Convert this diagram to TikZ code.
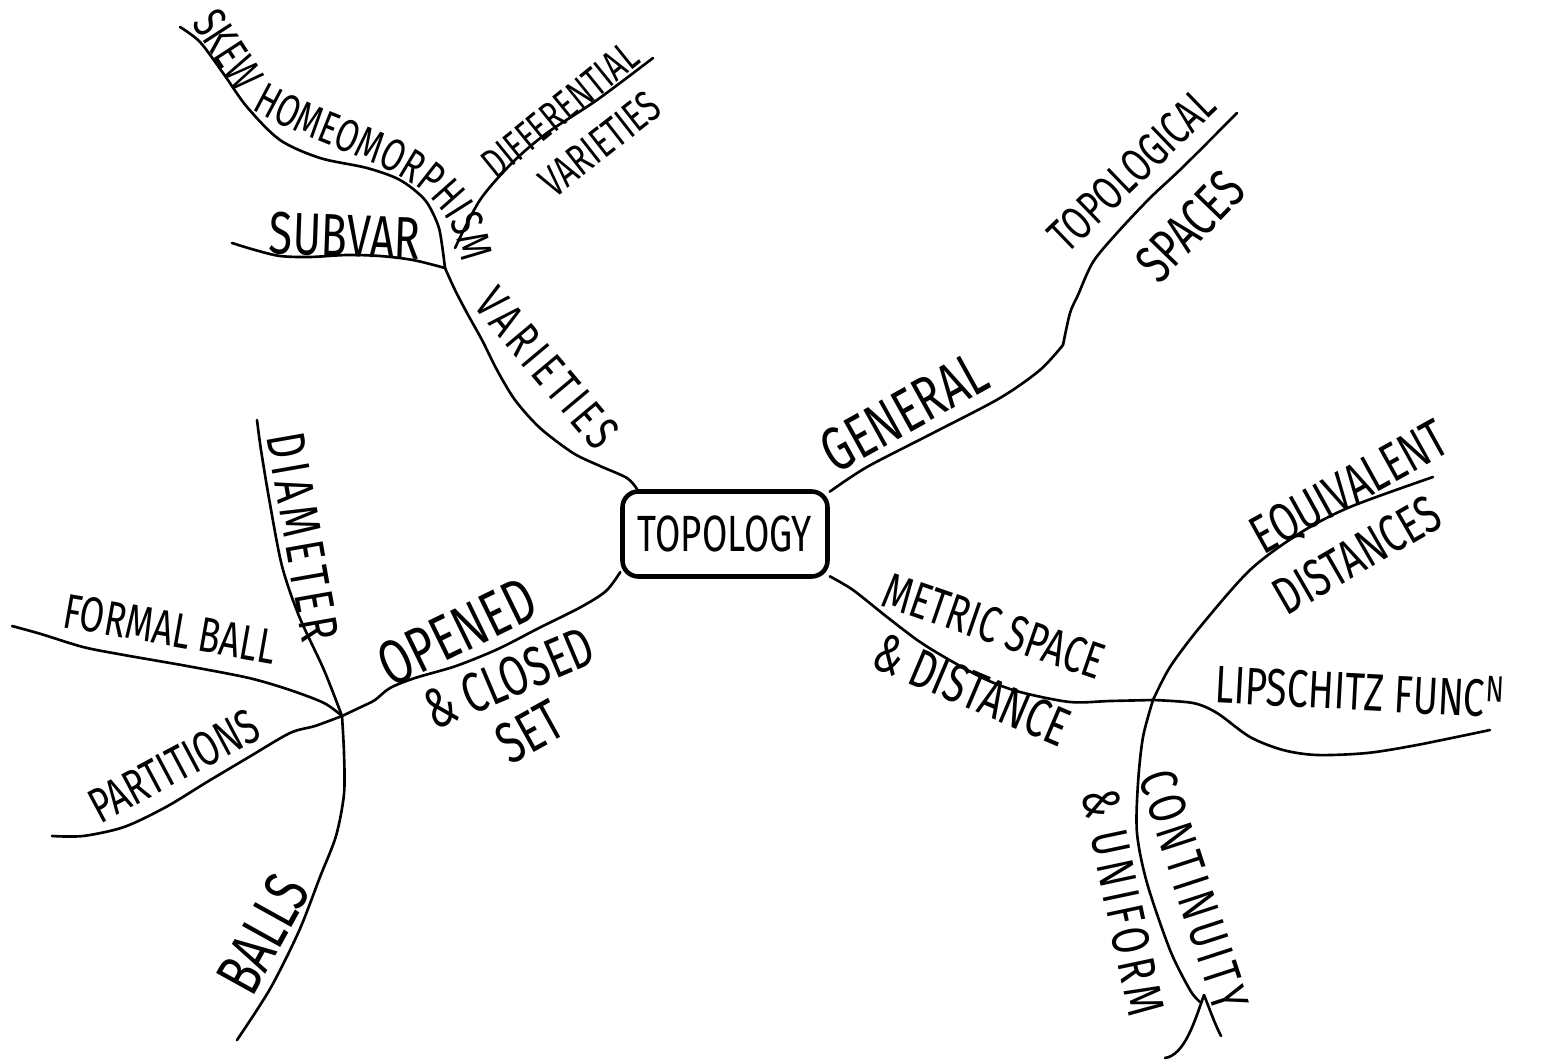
\documentclass[tikz,border=0pt]{standalone}
\usepackage{fontspec}
\setmainfont{Fira Sans}[FakeStretch=0.72]
\usetikzlibrary{decorations.text}
\tikzset{
  branch/.style={line width=1.5pt, line cap=round, line join=round},
  lab/.style={font=\fontsize{#1}{#1}\selectfont, inner sep=0pt},
  spaced/.style={font=\fontsize{#1}{#1}\selectfont\addfontfeature{LetterSpace=9}, inner sep=0pt},
  centre/.style={draw, line width=2.6pt, rounded corners=9pt, minimum width=4.1cm,
    minimum height=1.7cm, inner sep=0pt, font=\fontsize{29}{29}\selectfont}
}
\begin{document}
\begin{tikzpicture}[x=0.02cm, y=-0.02cm]
\useasboundingbox (0,0) rectangle (1551,1064);
\fill[white] (0,0) rectangle (1551,1064);

\node[centre] (T) at (725,534) {TOPOLOGY};

% junctions and free ends
\coordinate (JV) at (445,268);
\coordinate (JD) at (455,248);
\coordinate (JM) at (1153,700);
\coordinate (JO) at (342,716);
\coordinate (kG) at (1063,345);
\coordinate (eSub) at (232,243);
\coordinate (eHom) at (180,27);
\coordinate (eDif) at (653,58);
\coordinate (eTop) at (1237,113);
\coordinate (eEqu) at (1433,477);
\coordinate (eLip) at (1490,730);
\coordinate (eCon) at (1200,1002);
\coordinate (a1) at (1165,1058);
\coordinate (a2) at (1204,995);
\coordinate (a3) at (1221,1036);
\coordinate (eDia) at (257,420);
\coordinate (eFor) at (12,626);
\coordinate (ePar) at (52,836);
\coordinate (eBal) at (237,1040);

% varieties side
\draw[branch] plot[smooth] coordinates {(T.153) (627,478) (600,466) (573,453) (540,428) (515,400) (497,370) (482,340) (467,313) (455,290) (JV)};
\draw[branch] plot[smooth] coordinates {(JV) (413,260) (380,256) (347,255) (310,257) (280,256) (255,250) (eSub)};
\draw[branch] plot[smooth] coordinates {(JV) (442,245) (438,225) (425,200) (400,180) (367,168) (320,158) (280,140) (247,107) (223,73) (200,42) (eHom)};
\draw[branch] plot[smooth] coordinates {(JD) (480,200) (513,162) (547,133) (597,100) (eDif)};

% general side
\draw[branch] plot[smooth] coordinates {(T.22) (867,467) (933,433) (1000,398) (1040,370) (kG)};
\draw[branch] plot[smooth] coordinates {(kG) (1070,313) (1078,295) (1093,262) (1117,233) (1150,198) (1183,167) (eTop)};

% metric side
\draw[branch] plot[smooth] coordinates {(T.-22) (853,590) (887,617) (920,642) (953,662) (987,680) (1020,692) (1070,702) (1110,701) (JM)};
\draw[branch] plot[smooth] coordinates {(JM) (1170,667) (1200,627) (1250,570) (1300,533) (1350,507) (eEqu)};
\draw[branch] plot[smooth] coordinates {(JM) (1193,703) (1217,713) (1250,737) (1283,750) (1317,755) (1367,753) (1417,745) (eLip)};
\draw[branch] plot[smooth] coordinates {(JM) (1143,737) (1138,783) (1137,833) (1147,883) (1170,950) (1190,990) (eCon)};
\draw[branch] (a1) .. controls (1185,1055) and (1195,1020) .. (a2) .. controls (1210,1010) and (1214,1022) .. (a3);

% opened side
\draw[branch] plot[smooth] coordinates {(T.200) (606,591) (581,607) (539,628) (498,649) (456,666) (415,678) (390,688) (375,700) (361,707) (JO)};
\draw[branch] plot[smooth] coordinates {(JO) (324,670) (299,616) (282,566) (270,504) (261,450) (eDia)};
\draw[branch] plot[smooth] coordinates {(JO) (324,703) (290,690) (249,678) (187,666) (124,655) (83,647) (41,634) (eFor)};
\draw[branch] plot[smooth] coordinates {(JO) (315,726) (290,733) (249,757) (207,782) (166,807) (124,827) (83,836) (ePar)};
\draw[branch] plot[smooth] coordinates {(JO) (344,753) (344,794) (336,836) (320,877) (299,931) (270,989) (eBal)};

% labels
\node[lab=27, rotate=-57] (lSkew) at (228,50) {SKEW};
\path[decorate, decoration={text along path, text align=center,
  text={|\fontsize{26}{26}\selectfont|HOMEOMORPHISM}}]
  (252,110) .. controls (350,165) and (448,165) .. (462,262);
\node[lab=24, rotate=39] (lDif) at (560,110) {DIFFERENTIAL};
\node[lab=25, rotate=38] (lVd) at (600,144) {VARIETIES};
\node[lab=34, rotate=-2] (lSub) at (345,236) {SUBVAR};
\node[spaced=28, rotate=-50] (lVar) at (547,368) {VARIETIES};
\node[lab=35, rotate=29] (lGen) at (904,412) {GENERAL};
\node[lab=27, rotate=44] (lTop) at (1132,170) {TOPOLOGICAL};
\node[lab=31, rotate=46] (lSpa) at (1190,226) {SPACES};
\node[lab=29, rotate=-19] (lMet) at (994,626) {METRIC SPACE};
\node[lab=31, rotate=-23] (lDis) at (972,690) {\& DISTANCE};
\node[spaced=30, rotate=-78] (lUni) at (1123,902) {\& UNIFORM};
\node[spaced=30, rotate=-72] (lCon) at (1194,890) {CONTINUITY};
\node[lab=31, rotate=29] (lEqu) at (1350,489) {EQUIVALENT};
\node[lab=30, rotate=30] (lDs) at (1357,555) {DISTANCES};
\node[lab=30, rotate=-3] (lLip) at (1360,690) {LIPSCHITZ FUNC\textsuperscript{N}};
\node[lab=36, rotate=26] (lOpe) at (457,632) {OPENED};
\node[lab=32, rotate=23] (lClo) at (509,678) {\& CLOSED};
\node[lab=33, rotate=29] (lSet) at (530,732) {SET};
\node[spaced=31, rotate=-80] (lDia) at (303,537) {DIAMETER};
\node[lab=28, rotate=-10] (lFor) at (170,629) {FORMAL BALL};
\node[lab=28, rotate=28] (lPar) at (174,766) {PARTITIONS};
\node[lab=36, rotate=61] (lBal) at (263,934) {BALLS};
\end{tikzpicture}
\end{document}
